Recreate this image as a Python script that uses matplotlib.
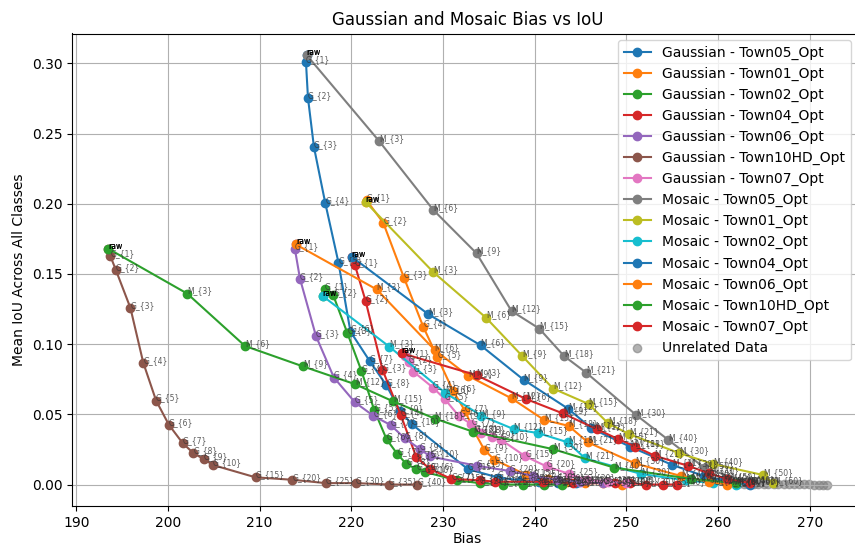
import matplotlib
matplotlib.use("Agg")
import matplotlib.pyplot as plt

# ---------------- data ----------------
g_labels = ["raw", "G_{1}", "G_{2}", "G_{3}", "G_{4}", "G_{5}", "G_{6}", "G_{7}", "G_{8}",
            "G_{9}", "G_{10}", "G_{15}", "G_{20}", "G_{25}", "G_{30}", "G_{35}", "G_{40}"]
m_labels = ["raw", "M_{3}", "M_{6}", "M_{9}", "M_{12}", "M_{15}", "M_{18}", "M_{21}",
            "M_{30}", "M_{40}", "M_{50}", "M_{60}"]

g_town05_bias = [215.12, 215.05, 215.27, 215.92, 217.15, 218.6, 219.9, 222.0, 223.8, 225.3, 226.6,
                 232.7, 236.0, 238.5, 240.5, 242.5, 244.5]
g_town05_iou = [0.306, 0.301, 0.2754, 0.2405, 0.2007, 0.158, 0.109, 0.088, 0.071, 0.0525, 0.043,
                0.011, 0.005, 0.003, 0.002, 0.001, 0.001]

g_town01_bias = [221.56, 221.67, 223.48, 225.74, 227.84, 229.4, 231.1, 232.4, 233.4, 234.5, 235.6,
                 239.1, 241.5, 243.5, 245.5, 247.5, 249.5]
g_town01_iou = [0.2012, 0.2024, 0.1865, 0.1474, 0.1125, 0.0905, 0.0667, 0.0525, 0.038, 0.0248, 0.0177,
                0.0068, 0.004, 0.002, 0.001, 0.001, 0.0]

g_town02_bias = [216.87, 217.12, 218.03, 219.55, 221.1, 222.5, 223.85, 225.0, 226.0, 227.1, 228.0,
                 231.5, 234.0, 236.6, 238.7, 241.0, 243.0]
g_town02_iou = [0.1343, 0.139, 0.1348, 0.1082, 0.081, 0.053, 0.0322, 0.0219, 0.0146, 0.011, 0.009,
                0.003, 0.001, 0.0, 0.0, 0.0, 0.0]

g_town04_bias = [220.03, 220.4, 221.56, 223.4, 225.4, 227.1, 228.6, 230.9, 234.0, 235.7, 240.9,
                 244.2, 248.8, 250.4, 252.2, 254.0, 255.5]
g_town04_iou = [0.1623, 0.1561, 0.1307, 0.0817, 0.0494, 0.0193, 0.011, 0.004, 0.003, 0.002, 0.002,
                0.001, 0.001, 0.001, 0.0, 0.0, 0.0]

g_town06_bias = [213.96, 213.85, 214.4, 216.14, 218.1, 220.4, 222.4, 224.3, 225.85, 227.5, 228.6,
                 233.66, 237.3, 239.8, 242.4, 245.0, 247.5]
g_town06_iou = [0.171, 0.1675, 0.1466, 0.1058, 0.0762, 0.0585, 0.049, 0.0423, 0.0328, 0.0252, 0.020,
                0.0134, 0.0096, 0.0063, 0.0034, 0.002, 0.001]

g_town10hd_bias = [193.48, 193.7, 194.3, 195.9, 197.3, 198.7, 200.1, 201.6, 202.76, 203.9, 204.9,
                   209.56, 213.55, 217.2, 220.5, 224.1, 227.2]
g_town10hd_iou = [0.168, 0.163, 0.1530, 0.1258, 0.0868, 0.0598, 0.0425, 0.0295, 0.0224, 0.0181, 0.0139,
                  0.0051, 0.0034, 0.001, 0.001, 0.0, 0.0]

g_town07_bias = [225.5, 225.9, 226.3, 226.75, 228.9, 230.2, 231.77, 233.1, 234.2, 235.3, 236.3,
                 239.0, 241.3, 243.8, 245.66, 248.0, 250.0]
g_town07_iou = [0.0935, 0.0915, 0.087, 0.0805, 0.0691, 0.0608, 0.0485, 0.043, 0.037, 0.034, 0.032,
                0.020, 0.0129, 0.0075, 0.0034, 0.002, 0.001]

m_town05_bias = [215.12, 223.04, 228.93, 233.66, 237.48, 240.5, 243.2, 245.6, 251.1, 254.56, 258.5, 263.0]
m_town05_iou = [0.306, 0.2446, 0.1957, 0.1647, 0.1236, 0.1111, 0.0916, 0.0798, 0.0494, 0.0319, 0.012, 0.002]

m_town01_bias = [221.56, 228.93, 234.68, 238.64, 242.0, 245.9, 248.0, 250.3, 255.76, 259.5, 264.9, 266.0]
m_town01_iou = [0.2012, 0.1514, 0.1189, 0.0916, 0.0684, 0.0573, 0.0437, 0.0359, 0.0224, 0.0146, 0.0068, 0.001]

m_town02_bias = [216.87, 224.13, 230.2, 234.2, 237.7, 240.4, 243.65, 245.5, 251.65, 256.5, 259.5, 262.0]
m_town02_iou = [0.1343, 0.0983, 0.0655, 0.049, 0.0395, 0.0366, 0.030, 0.0186, 0.0075, 0.003, 0.001, 0.0]

m_town04_bias = [220.03, 228.4, 234.1, 238.8, 243.65, 246.2, 250.4, 255.0, 258.5, 260.5, 262.0, 263.5]
m_town04_iou = [0.1623, 0.1213, 0.0992, 0.0746, 0.054, 0.040, 0.027, 0.014, 0.006, 0.003, 0.001, 0.0]

m_town06_bias = [213.96, 222.76, 229.1, 232.75, 237.5, 241.0, 243.7, 245.83, 250.93, 256.0, 259.0, 261.0]
m_town06_iou = [0.171, 0.139, 0.0958, 0.0774, 0.0613, 0.0461, 0.0418, 0.030, 0.0151, 0.006, 0.002, 0.0]

m_town10hd_bias = [193.48, 202.1, 208.4, 214.75, 220.4, 224.57, 229.1, 233.3, 242.0, 248.7, 257.1, 262.0]
m_town10hd_iou = [0.168, 0.136, 0.0987, 0.0841, 0.0715, 0.0592, 0.047, 0.0376, 0.0252, 0.012, 0.004, 0.001]

m_town07_bias = [225.5, 233.66, 239.1, 243.1, 246.75, 249.1, 251.0, 253.1, 256.7, 259.0, 261.0, 263.5]
m_town07_iou = [0.0935, 0.0779, 0.0608, 0.0506, 0.0395, 0.0324, 0.027, 0.0205, 0.0134, 0.008, 0.004, 0.001]

unrelated_bias = [262.2, 262.8, 263.3, 263.9, 264.4, 265.0, 265.5, 266.1, 266.6, 267.2, 267.7,
                  268.3, 268.8, 269.4, 269.9, 270.5, 271.0, 271.5, 271.9]
unrelated_iou = [0.0005, 0.0004, 0.0005, 0.0003, 0.0004, 0.0003, 0.0002, 0.0003, 0.0002, 0.0002, 0.0001,
                 0.0002, 0.0001, 0.0001, 0.0001, 0.0, 0.0, 0.0, 0.0]

series = [
    ("Gaussian - Town05_Opt", g_town05_bias, g_town05_iou, g_labels),
    ("Gaussian - Town01_Opt", g_town01_bias, g_town01_iou, g_labels),
    ("Gaussian - Town02_Opt", g_town02_bias, g_town02_iou, g_labels),
    ("Gaussian - Town04_Opt", g_town04_bias, g_town04_iou, g_labels),
    ("Gaussian - Town06_Opt", g_town06_bias, g_town06_iou, g_labels),
    ("Gaussian - Town10HD_Opt", g_town10hd_bias, g_town10hd_iou, g_labels),
    ("Gaussian - Town07_Opt", g_town07_bias, g_town07_iou, g_labels),
    ("Mosaic - Town05_Opt", m_town05_bias, m_town05_iou, m_labels),
    ("Mosaic - Town01_Opt", m_town01_bias, m_town01_iou, m_labels),
    ("Mosaic - Town02_Opt", m_town02_bias, m_town02_iou, m_labels),
    ("Mosaic - Town04_Opt", m_town04_bias, m_town04_iou, m_labels),
    ("Mosaic - Town06_Opt", m_town06_bias, m_town06_iou, m_labels),
    ("Mosaic - Town10HD_Opt", m_town10hd_bias, m_town10hd_iou, m_labels),
    ("Mosaic - Town07_Opt", m_town07_bias, m_town07_iou, m_labels),
]

# ---------------- figure ----------------
W, H = 855, 547
fig = plt.figure(figsize=(W / 100, H / 100), dpi=100)
ax_left, ax_right, ax_top, ax_bottom = 72.3, 863.0, 33.5, 506.0
ax = fig.add_axes([ax_left / W, 1 - ax_bottom / H, (ax_right - ax_left) / W, (ax_bottom - ax_top) / H])

for name, xs, ys, labs in series:
    ax.plot(xs, ys, marker="o", label=name)
    for x, y, lab in zip(xs, ys, labs):
        if lab == "raw":
            ax.text(x, y, lab, fontsize=5.5, color="black")
        else:
            ax.text(x, y, lab, fontsize=5.5, color="#333333", alpha=0.8)

ax.scatter(unrelated_bias, unrelated_iou, color="gray", alpha=0.6, label="Unrelated Data")

ax.set_title("Gaussian and Mosaic Bias vs IoU")
ax.set_xlabel("Bias", labelpad=1.5)
ax.set_ylabel("Mean IoU Across All Classes")
ax.grid(True)

ax.legend(loc="upper right", bbox_to_anchor=(851 / W, 1 - 40 / H),
          bbox_transform=fig.transFigure, borderaxespad=0)

fig.savefig("out.png", dpi=100)
